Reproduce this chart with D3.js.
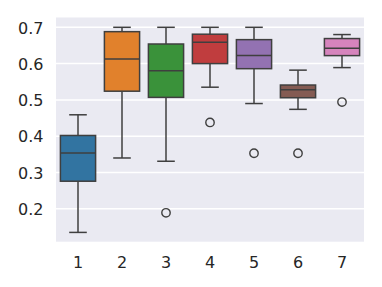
<!DOCTYPE html>
<html>
<head>
<meta charset="utf-8">
<script src="https://cdn.jsdelivr.net/npm/d3@7"></script>
<style>
  body { margin: 0; background: #fff; }
  svg { display: block; }
  text { font-family: "DejaVu Sans", sans-serif; fill: #262626; }
</style>
</head>
<body>
<svg></svg>
<script>
// ---- data ----
const categories = ["1", "2", "3", "4", "5", "6", "7"];
const whiskerLow  = [0.135, 0.340, 0.331, 0.535, 0.490, 0.474, 0.589];
const q1          = [0.276, 0.524, 0.507, 0.600, 0.586, 0.506, 0.622];
const medians     = [0.354, 0.613, 0.580, 0.659, 0.622, 0.528, 0.642];
const q3          = [0.402, 0.688, 0.654, 0.681, 0.666, 0.541, 0.669];
const whiskerHigh = [0.459, 0.700, 0.700, 0.700, 0.700, 0.582, 0.680];
const outliers    = [[], [], [0.189], [0.438], [0.353], [0.353], [0.494]];
const yTicks      = [0.2, 0.3, 0.4, 0.5, 0.6, 0.7];
const colors = ["#3274a1", "#e1812c", "#3a923a", "#c03d3e", "#9372b2", "#845b53", "#d684bd"];

const width = 382;
const height = 287;
const margin = { top: 17.5, right: 18, bottom: 45.3, left: 56 };
const innerW = width - margin.left - margin.right;
const innerH = height - margin.top - margin.bottom;

const svg = d3.select("svg")
    .attr("width", width)
    .attr("height", height);

const g = svg.append("g")
    .attr("transform", `translate(${margin.left},${margin.top})`);

// échelles
const x = d3.scaleBand()
    .domain(categories)
    .range([0, innerW])
    .paddingInner(0)
    .paddingOuter(0);

const y = d3.scaleLinear()
    .domain([0.1094, 0.727])
    .range([innerH, 0]);

// fond gris + grille
g.append("rect")
    .attr("width", innerW)
    .attr("height", innerH)
    .attr("fill", "#eaeaf2");

g.selectAll("line.grid")
    .data(yTicks)
    .enter()
    .append("line")
    .attr("class", "grid")
    .attr("x1", 0)
    .attr("x2", innerW)
    .attr("y1", d => y(d))
    .attr("y2", d => y(d))
    .attr("stroke", "#fff")
    .attr("stroke-width", 1.5);

// axes (texte seulement)
const yAxis = g.append("g")
    .call(d3.axisLeft(y).tickValues(yTicks).tickFormat(d3.format(".1f")).tickSize(0).tickPadding(12.5));
yAxis.select(".domain").remove();
yAxis.selectAll("text").style("font-size", "16px").attr("dy", "0.36em");

const xAxis = g.append("g")
    .attr("transform", `translate(0,${innerH})`)
    .call(d3.axisBottom(x).tickSize(0).tickPadding(14.5));
xAxis.select(".domain").remove();
xAxis.selectAll("text").style("font-size", "16px");

// boîtes
const lineColor = "#3f3f3f";
const boxW = x.bandwidth() * 0.8;
const capW = boxW / 2;

const boxes = g.selectAll("g.box")
    .data(categories)
    .enter()
    .append("g")
    .attr("class", "box")
    .attr("transform", d => `translate(${x(d) + x.bandwidth() / 2},0)`);

// moustaches
boxes.append("line")
    .attr("x1", 0).attr("x2", 0)
    .attr("y1", (d, i) => y(whiskerLow[i]))
    .attr("y2", (d, i) => y(q1[i]))
    .attr("stroke", lineColor).attr("stroke-width", 1.5);
boxes.append("line")
    .attr("x1", 0).attr("x2", 0)
    .attr("y1", (d, i) => y(q3[i]))
    .attr("y2", (d, i) => y(whiskerHigh[i]))
    .attr("stroke", lineColor).attr("stroke-width", 1.5);
boxes.append("line")
    .attr("x1", -capW / 2).attr("x2", capW / 2)
    .attr("y1", (d, i) => y(whiskerLow[i]))
    .attr("y2", (d, i) => y(whiskerLow[i]))
    .attr("stroke", lineColor).attr("stroke-width", 1.5);
boxes.append("line")
    .attr("x1", -capW / 2).attr("x2", capW / 2)
    .attr("y1", (d, i) => y(whiskerHigh[i]))
    .attr("y2", (d, i) => y(whiskerHigh[i]))
    .attr("stroke", lineColor).attr("stroke-width", 1.5);

// rectangle
boxes.append("rect")
    .attr("x", -boxW / 2)
    .attr("width", boxW)
    .attr("y", (d, i) => y(q3[i]))
    .attr("height", (d, i) => y(q1[i]) - y(q3[i]))
    .attr("fill", (d, i) => colors[i])
    .attr("stroke", lineColor)
    .attr("stroke-width", 1.5);

// médiane
boxes.append("line")
    .attr("x1", -boxW / 2).attr("x2", boxW / 2)
    .attr("y1", (d, i) => y(medians[i]))
    .attr("y2", (d, i) => y(medians[i]))
    .attr("stroke", lineColor).attr("stroke-width", 1.5);

// points aberrants
boxes.each(function(d, i) {
    d3.select(this).selectAll("circle")
        .data(outliers[i])
        .enter()
        .append("circle")
        .attr("cx", 0)
        .attr("cy", v => y(v))
        .attr("r", 4.2)
        .attr("fill", "none")
        .attr("stroke", lineColor)
        .attr("stroke-width", 1.4);
});
</script>
</body>
</html>
